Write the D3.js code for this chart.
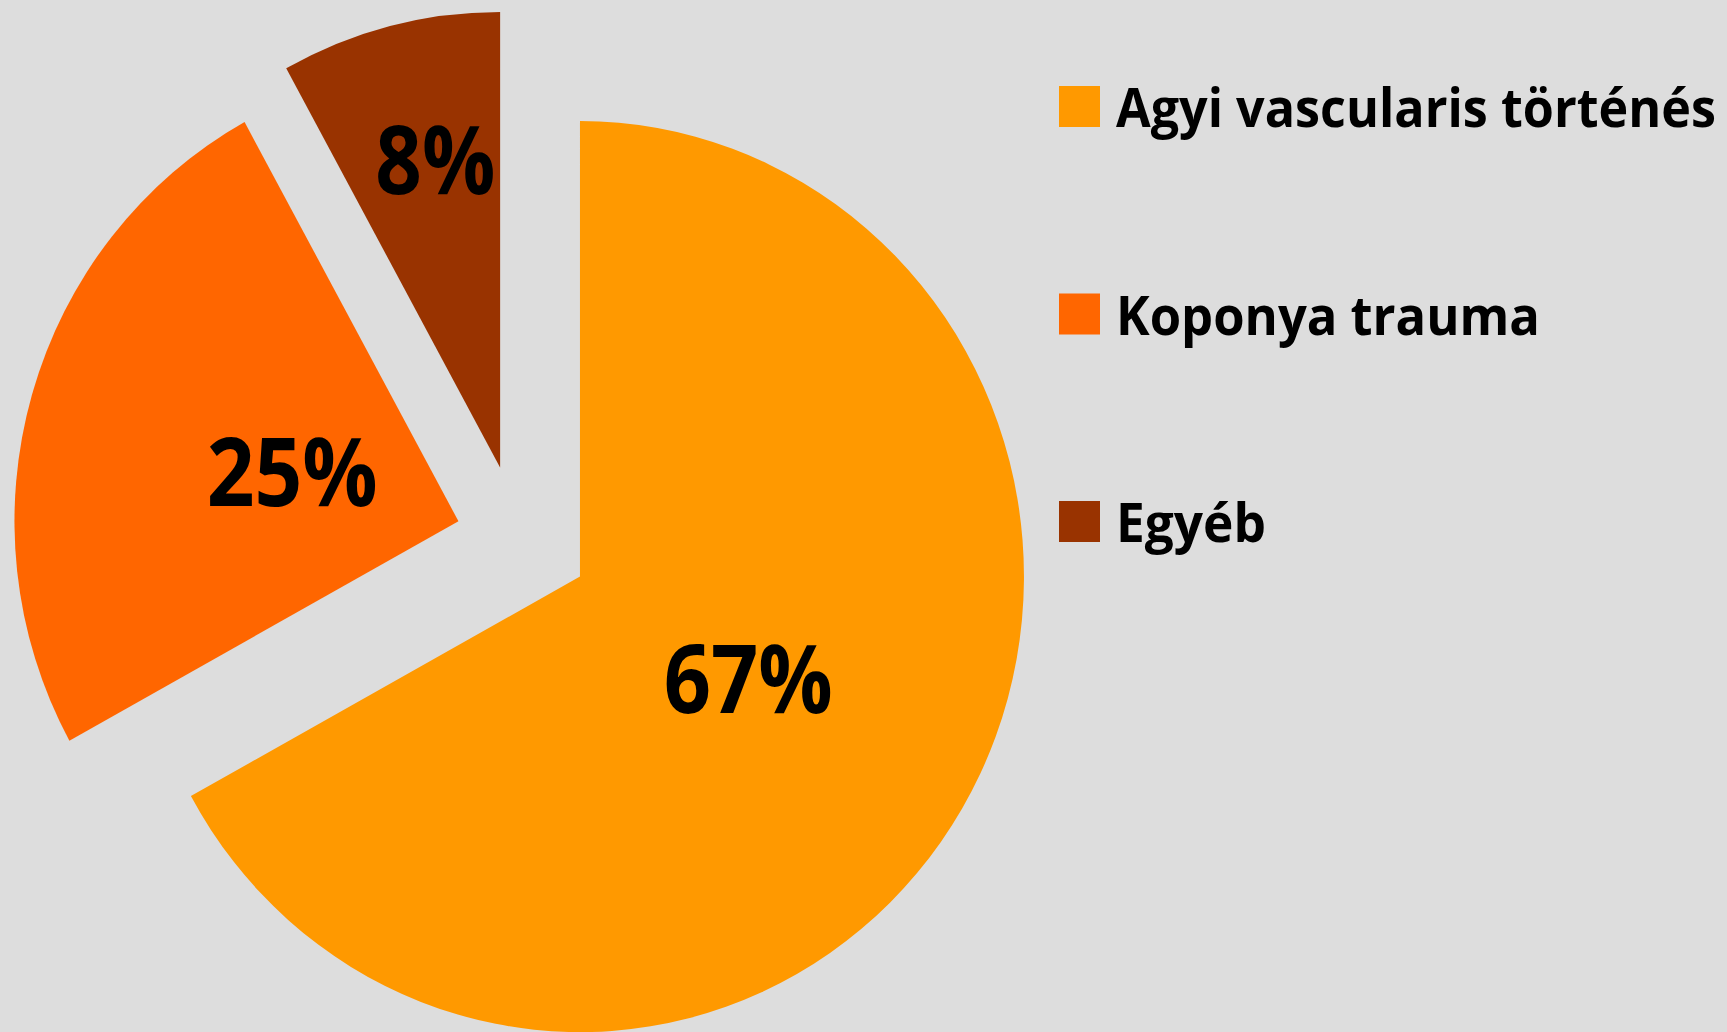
<!DOCTYPE html>
<html>
<head>
<meta charset="utf-8">
<script src="https://cdn.jsdelivr.net/npm/d3@7.9.0/dist/d3.min.js"></script>
<style>
  html, body { margin: 0; padding: 0; background: #dddddd; overflow: hidden; }
  svg { display: block; }
  text { font-family: "Open Sans", "Noto Sans", sans-serif; font-weight: 700; fill: #000; }
</style>
</head>
<body>
<svg id="chart" width="1727" height="1032"></svg>
<script>
// ---- data ----
const categories = ["Agyi vascularis történés", "Koponya trauma", "Egyéb"];
const values = [67, 25, 8];
const pctLabels = ["67%", "25%", "8%"];
const colors = ["#FF9900", "#FF6600", "#993300"];

// ---- layout ----
const W = 1727, H = 1032;
const cx = 518, cy = 539;
const r = 444;
const sy = 1.026;              // the original pie is a touch taller than wide
const explode = [72, 62, 72];  // per-slice pull-out distance
const labelFrac = [0.44, 0.39, 0.69];
const labelTurn = [0, 0, 2.2]; // degrees, small nudge off the mid angle
const labelWidth = [169, 171, 120];
const labelSize = 95;
const legendWidth = [600, 424, 150];

const svg = d3.select("#chart");
svg.append("rect").attr("width", W).attr("height", H).attr("fill", "#dddddd");

const pie = d3.pie().sort(null).value(d => d.value);
const arc = d3.arc().innerRadius(0).outerRadius(r);

const rows = categories.map((c, i) => ({ name: c, value: values[i], label: pctLabels[i], i }));
const arcs = pie(rows);

const color = d3.scaleOrdinal().domain(categories).range(colors);

const pieG = svg.append("g")
  .attr("transform", `translate(${cx},${cy}) scale(1,${sy})`);

pieG.selectAll("path")
  .data(arcs)
  .join("path")
  .attr("transform", d => {
    const mid = (d.startAngle + d.endAngle) / 2;
    const e = explode[d.data.i];
    return `translate(${e * Math.sin(mid)},${-e * Math.cos(mid)})`;
  })
  .attr("d", arc)
  .attr("fill", d => color(d.data.name));

// percentage labels (kept outside the scaled group)
function labelPos(d) {
  const i = d.data.i;
  const mid = (d.startAngle + d.endAngle) / 2;
  const a = mid + labelTurn[i] * Math.PI / 180;
  // explode offset follows the slice mid angle, label distance the nudged one
  const ax = explode[i] * Math.sin(mid), ay = -explode[i] * Math.cos(mid);
  const lx = labelFrac[i] * r * Math.sin(a), ly = -labelFrac[i] * r * Math.cos(a);
  return [cx + ax + lx, cy + (ay + ly) * sy];
}

svg.append("g").selectAll("text")
  .data(arcs)
  .join("text")
  .attr("text-anchor", "middle")
  .attr("font-size", labelSize)
  .attr("textLength", d => labelWidth[d.data.i])
  .attr("lengthAdjust", "spacingAndGlyphs")
  .attr("x", d => labelPos(d)[0])
  .attr("y", d => labelPos(d)[1] + labelSize * 0.357)
  .text(d => d.data.label);

// ---- legend ----
const legendY = d3.scalePoint().domain(categories).range([86, 501]);
const sw = 41;

const leg = svg.append("g").selectAll("g")
  .data(categories)
  .join("g")
  .attr("transform", d => `translate(1059,${legendY(d)})`);

leg.append("rect")
  .attr("width", sw)
  .attr("height", sw)
  .attr("fill", d => color(d));

leg.append("text")
  .attr("x", 57)
  .attr("y", sw)
  .attr("font-size", 53)
  .attr("textLength", (d, i) => legendWidth[i])
  .attr("lengthAdjust", "spacingAndGlyphs")
  .text(d => d);
</script>
</body>
</html>
